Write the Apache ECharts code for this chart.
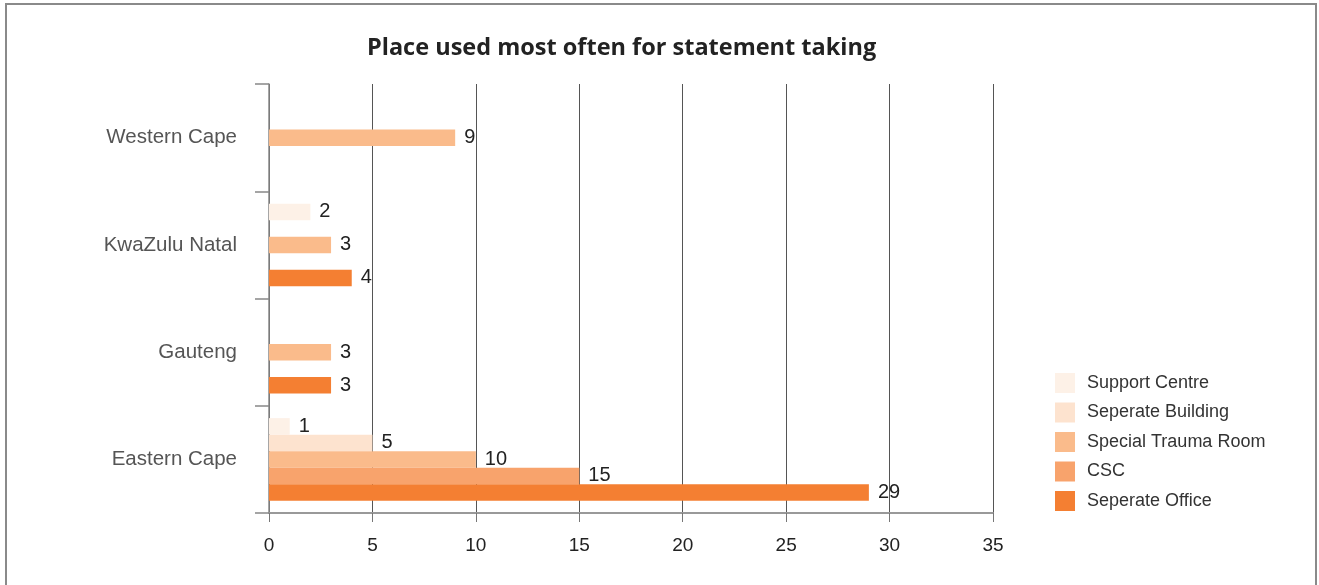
<!DOCTYPE html>
<html><head><meta charset="utf-8">
<script src="https://cdn.jsdelivr.net/npm/echarts@6/dist/echarts.min.js"></script>
<style>html,body{margin:0;padding:0;background:#fff}#c{width:1319px;height:585px}</style>
</head><body><div id="c"></div>
<script>
const categories = ['Eastern Cape', 'Gauteng', 'KwaZulu Natal', 'Western Cape'];
const seriesNames = ['Support Centre', 'Seperate Building', 'Special Trauma Room', 'CSC', 'Seperate Office'];
const supportCentre = [1, null, 2, null];
const seperateBuilding = [5, null, null, null];
const specialTraumaRoom = [10, 3, 3, 9];
const csc = [15, null, null, null];
const seperateOffice = [29, 3, 4, null];
const xTicks = [0, 5, 10, 15, 20, 25, 30, 35];
const colors = ['#fdf1e7', '#fde3cf', '#fabb8b', '#f8a36c', '#f47f32'];
const allData = [supportCentre, seperateBuilding, specialTraumaRoom, csc, seperateOffice];

const chart = echarts.init(document.getElementById('c'));
chart.setOption({
  animation: false,
  title: {
    text: 'Place used most often for statement taking',
    left: 362, top: 31,
    textStyle: { fontFamily: 'Open Sans', fontWeight: 'bold', fontSize: 23.5, color: '#222' }
  },
  graphic: [{
    type: 'rect', shape: { x: 6, y: 4, width: 1310, height: 600 },
    style: { fill: 'none', stroke: '#8a8a8a', lineWidth: 2 }, silent: true
  }],
  legend: {
    orient: 'vertical', left: 1050, top: 368,
    itemWidth: 20, itemHeight: 20, itemGap: 9.5,
    icon: 'rect',
    data: seriesNames,
    textStyle: { fontFamily: 'Liberation Sans', fontSize: 18, color: '#333', padding: [0, 0, 0, 7] }
  },
  grid: { left: 269, right: 326, top: 84, bottom: 72, containLabel: false },
  xAxis: {
    type: 'value', min: xTicks[0], max: xTicks[xTicks.length - 1], interval: 5,
    axisLine: { show: true, lineStyle: { color: '#999', width: 2 } },
    axisTick: { show: true, length: 9, lineStyle: { color: '#777', width: 1 } },
    axisLabel: { margin: 23, fontFamily: 'Liberation Sans', fontSize: 19, color: '#222' },
    splitLine: { show: true, lineStyle: { color: '#555', width: 1 } }
  },
  yAxis: {
    type: 'category', data: categories,
    axisLine: { show: true, lineStyle: { color: '#888', width: 1.5 } },
    axisTick: { show: true, length: 14, lineStyle: { color: '#888', width: 1.5 } },
    axisLabel: { margin: 32, fontFamily: 'Liberation Sans', fontSize: 20.5, color: '#555' },
    splitLine: { show: false }
  },
  series: seriesNames.map((name, i) => ({
    name, type: 'bar', data: allData[i],
    barWidth: 16.5, barGap: '0%',
    itemStyle: { color: colors[i] },
    label: { show: true, position: 'right', distance: 9, fontFamily: 'Liberation Sans', fontSize: 20, color: '#222' }
  }))
});
</script></body></html>
